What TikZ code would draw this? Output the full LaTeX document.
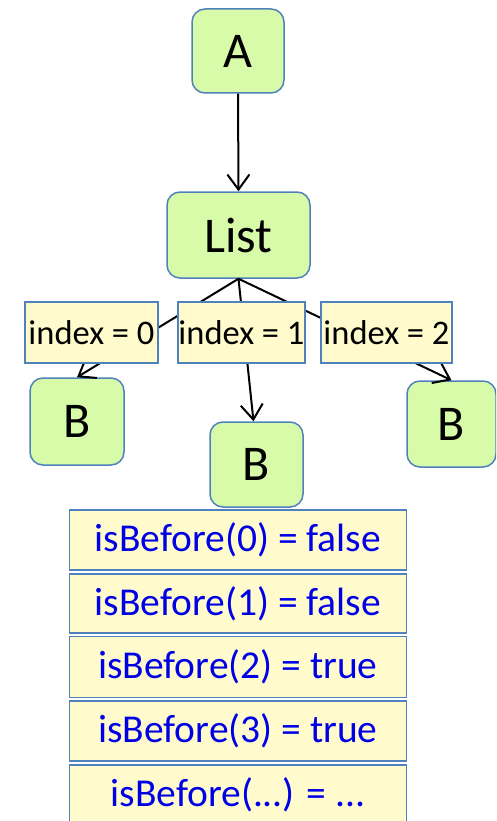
\documentclass[tikz,border=0pt]{standalone}
\usepackage{fontspec}
\setmainfont{Carlito}
\usetikzlibrary{arrows.meta}
\definecolor{gfill}{RGB}{216,251,170}
\definecolor{bord}{RGB}{79,129,189}
\definecolor{yfill}{RGB}{255,251,204}
\definecolor{tblue}{RGB}{0,0,230}
\tikzset{
 gbox/.style={draw=bord, fill=gfill, line width=1.5pt, rounded corners=13pt, inner sep=0pt, font=\fontsize{50}{54}\selectfont},
 ibox/.style={draw=bord, fill=yfill, line width=1.5pt, inner sep=0pt, minimum height=61pt, font=\fontsize{34.5}{38}\selectfont},
 rowbox/.style={draw=bord, fill=yfill, line width=1.5pt, inner sep=0pt, minimum width=337pt, minimum height=60pt, text=tblue, font=\fontsize{39.5}{42}\selectfont},
 arr/.style={line width=2pt, -{Straight Barb[length=15pt,width=22pt]}},
 conn/.style={line width=2pt}
}
\begin{document}
\begin{tikzpicture}[x=1pt,y=-1pt]
\useasboundingbox (0,0) rectangle (496,821);
\clip (0,0) rectangle (496,821);
% green boxes
\node[gbox, minimum width=92pt, minimum height=84pt] (A) at (238,51) {A};
\node[gbox, minimum width=143pt, minimum height=86pt] (L) at (238.5,235) {List};
\node[gbox, minimum width=94pt, minimum height=87pt] (B0) at (77,421.5) {B};
\node[gbox, minimum width=93pt, minimum height=85pt] (B1) at (256.5,464.5) {B};
\node[gbox, minimum width=89pt, minimum height=86pt] (B2) at (451.5,424) {B};
% connectors
\draw[arr] (A.south) -- (L.north);
\draw[arr] (L.south) -- (B0.north);
\draw[arr] (L.south) -- ([xshift=-3pt]B1.north);
\draw[arr] (L.south) -- (B2.north);
% index labels
\node[ibox, minimum width=133pt] (i0) at (91.5,332.5) {index = 0};
\node[ibox, minimum width=127pt] (i1) at (241.5,332.5) {index = 1};
\node[ibox, minimum width=131pt] (i2) at (386.5,332.5) {index = 2};
% table
\node[rowbox] (r1) at (238,540) {isBefore(0) = false};
\node[rowbox, minimum height=59pt] (r2) at (238,603.5) {isBefore(1) = false};
\node[rowbox, minimum height=61pt] (r3) at (238,667) {isBefore(2) = true};
\node[rowbox] (r4) at (238,731) {isBefore(3) = true};
\node[rowbox] (r5) at (238,795) {isBefore(...) = ...};
\end{tikzpicture}
\end{document}
